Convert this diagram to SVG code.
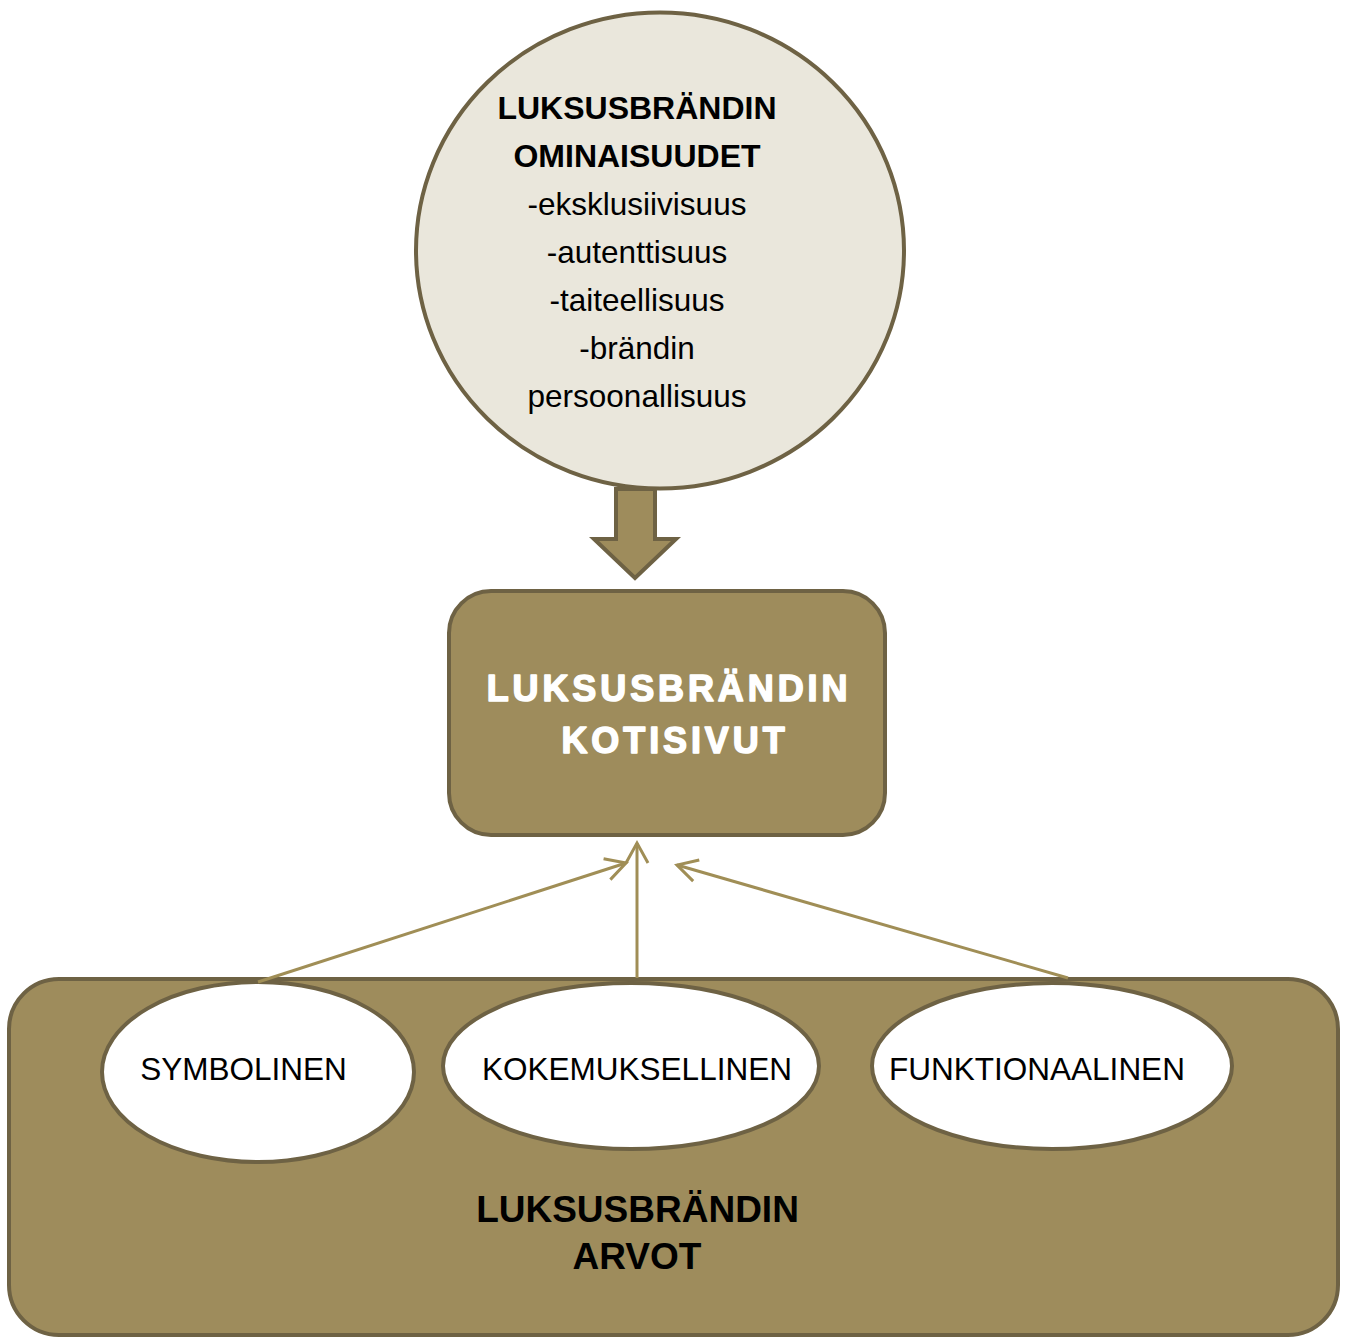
<svg xmlns="http://www.w3.org/2000/svg" width="1349" height="1338" viewBox="0 0 1349 1338">
<style>
.dark{fill:#9E8C5C;stroke:#6E6244;stroke-width:4}
.oval{fill:#FFFFFF;stroke:#6E6244;stroke-width:4}
.conn{stroke:#A08E56;stroke-width:3;fill:none}
.t{font-family:"Liberation Sans",Arial,sans-serif;text-anchor:middle}
.wt{fill:#FFFFFF;stroke:#FFFFFF;stroke-width:1.5;stroke-linejoin:round}
</style>
<defs>
<marker id="open" viewBox="-24 -14 28 28" refX="0" refY="0" markerWidth="28" markerHeight="28" markerUnits="userSpaceOnUse" orient="auto">
<path d="M-20,-11 L0,0 L-20,11" fill="none" stroke="#A08E56" stroke-width="3"/>
</marker>
</defs>
<rect width="1349" height="1338" fill="#FFFFFF"/>
<g id="node-ominaisuudet">
<ellipse cx="660" cy="250.5" rx="244" ry="238" fill="#EAE7DC" stroke="#6E6244" stroke-width="4"/>
<text class="t" x="637" y="119" font-size="32" font-weight="bold" fill="#000">LUKSUSBRÄNDIN</text>
<text class="t" x="637" y="167" font-size="32" font-weight="bold" fill="#000">OMINAISUUDET</text>
<text class="t" x="637" y="215" font-size="31.5" fill="#000">-eksklusiivisuus</text>
<text class="t" x="637" y="263" font-size="31.5" fill="#000">-autenttisuus</text>
<text class="t" x="637" y="311" font-size="31.5" fill="#000">-taiteellisuus</text>
<text class="t" x="637" y="359" font-size="31.5" fill="#000">-brändin</text>
<text class="t" x="637" y="407" font-size="31.5" fill="#000">persoonallisuus</text>
</g>
<g id="node-arvot">
<rect class="dark" x="9" y="979" width="1329" height="356" rx="50"/>
<text class="t" x="637.5" y="1222" font-size="37" font-weight="bold" fill="#000">LUKSUSBRÄNDIN</text>
<text class="t" x="637" y="1269" font-size="37" font-weight="bold" fill="#000">ARVOT</text>
</g>
<g id="node-symbolinen">
<ellipse class="oval" cx="258" cy="1072" rx="156" ry="90"/>
<text class="t" x="243.5" y="1080" font-size="31.5" fill="#000">SYMBOLINEN</text>
</g>
<g id="node-kokemuksellinen">
<ellipse class="oval" cx="631" cy="1066" rx="188" ry="83"/>
<text class="t" x="637" y="1080" font-size="31.5" fill="#000">KOKEMUKSELLINEN</text>
</g>
<g id="node-funktionaalinen">
<ellipse class="oval" cx="1052" cy="1066" rx="180" ry="83"/>
<text class="t" x="1037" y="1080" font-size="31.5" fill="#000">FUNKTIONAALINEN</text>
</g>
<g id="node-kotisivut">
<rect class="dark" x="449" y="591" width="436" height="244" rx="42"/>
<text class="t wt" x="669" y="701" font-size="36" font-weight="bold" letter-spacing="3.9">LUKSUSBRÄNDIN</text>
<text class="t wt" x="675" y="753" font-size="36" font-weight="bold" letter-spacing="3.9">KOTISIVUT</text>
</g>
<g id="connectors">
<path d="M616,489 L655,489 L655,539 L676,539 L635,578 L594,539 L616,539 Z" fill="#9E8C5C" stroke="#6E6244" stroke-width="4" stroke-linejoin="miter"/>
<line class="conn" x1="258" y1="982" x2="626" y2="863" marker-end="url(#open)"/>
<line class="conn" x1="637" y1="978" x2="637" y2="843" marker-end="url(#open)"/>
<line class="conn" x1="1068" y1="978" x2="677" y2="865" marker-end="url(#open)"/>
</g>
</svg>
